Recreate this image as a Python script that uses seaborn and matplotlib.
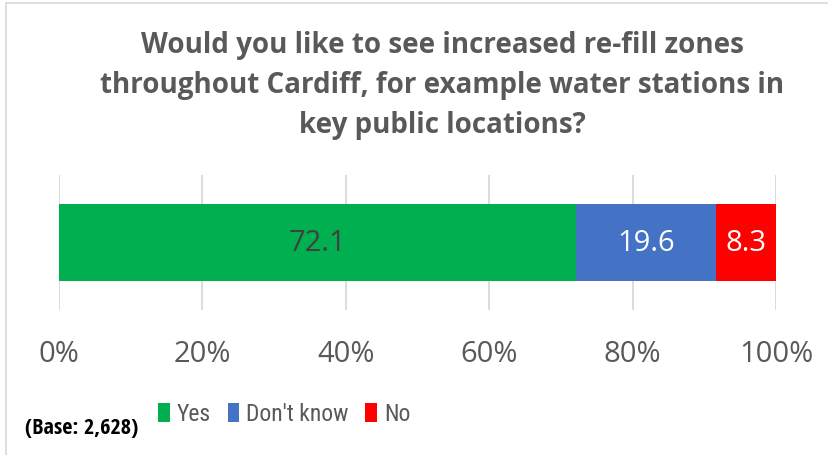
import matplotlib
matplotlib.use("Agg")
import matplotlib.pyplot as plt
import seaborn as sns
import pandas as pd
from matplotlib.patches import Rectangle, Patch

categories = ["Yes", "Don't know", "No"]
values = [72.1, 19.6, 8.3]
colors = ["#00B050", "#4472C4", "#FF0000"]
label_colors = ["#404040", "white", "white"]
xticks = [0, 20, 40, 60, 80, 100]
xtick_labels = ["0%", "20%", "40%", "60%", "80%", "100%"]
title = "Would you like to see increased re-fill zones\nthroughout Cardiff, for example water stations in\nkey public locations?"
base_note = "(Base: 2,628)"

sns.set_theme(style="white")
FONT = ["Open Sans", "DejaVu Sans"]
plt.rcParams["font.family"] = FONT

fig = plt.figure(figsize=(8.29, 4.56), dpi=100)
ax = fig.add_axes([59/829, 1-311/456, (776-59)/829, 135/456])

cum = []
s = 0
for v in values:
    s += v
    cum.append(s)
df = pd.DataFrame({"cat": categories, "cum": cum, "val": values})

for i in reversed(range(len(categories))):
    sns.barplot(x=[df["cum"][i]], y=["q"], orient="h", color=colors[i],
                width=0.57, ax=ax, saturation=1, edgecolor="none", linewidth=0)

starts = [c - v for c, v in zip(cum, values)]
for st, v, lc in zip(starts, values, label_colors):
    ax.text(st + v/2, 0, f"{v:.1f}", ha="center", va="center", color=lc, fontsize=21)

ax.set_xlim(0, 100)
ax.set_ylim(0.5, -0.5)
ax.set_xticks(xticks)
ax.set_xticklabels(xtick_labels, fontsize=21, color="#595959")
ax.tick_params(axis="x", length=0, pad=21)
ax.set_yticks([])
ax.set_ylabel("")
ax.set_xlabel("")
for sp in ax.spines.values():
    sp.set_visible(False)
for t in xticks:
    ax.axvline(t, color="#D9D9D9", lw=1.3, zorder=0)
ax.set_axisbelow(True)

fig.text(442/829, 1-86/456, title, ha="center", va="center", fontsize=20,
         fontweight="bold", color="#595959", linespacing=1.5)

handles = [Patch(facecolor=c, edgecolor="none") for c in colors]
leg = fig.legend(handles, categories, loc="center left", bbox_to_anchor=(158/829, 1-415/456),
                 ncol=3, frameon=False, handlelength=0.5, handleheight=0.85,
                 handletextpad=0.3, columnspacing=0.7, labelcolor="#595959",
                 borderpad=0, borderaxespad=0,
                 prop={"family": ["Roboto Condensed", "DejaVu Sans"], "size": 17})

fig.text(25/829, 1-429/456, base_note, ha="left", va="center", fontsize=16,
         fontweight="bold", color="black",
         family=["Open Sans Condensed", "DejaVu Sans"])

fig.patches.append(Rectangle((6/829, -0.05), 1.0, 1-4/456+0.05,
                             transform=fig.transFigure, fill=False,
                             edgecolor="#D9D9D9", lw=1.2))

fig.savefig("out.png", dpi=100)
